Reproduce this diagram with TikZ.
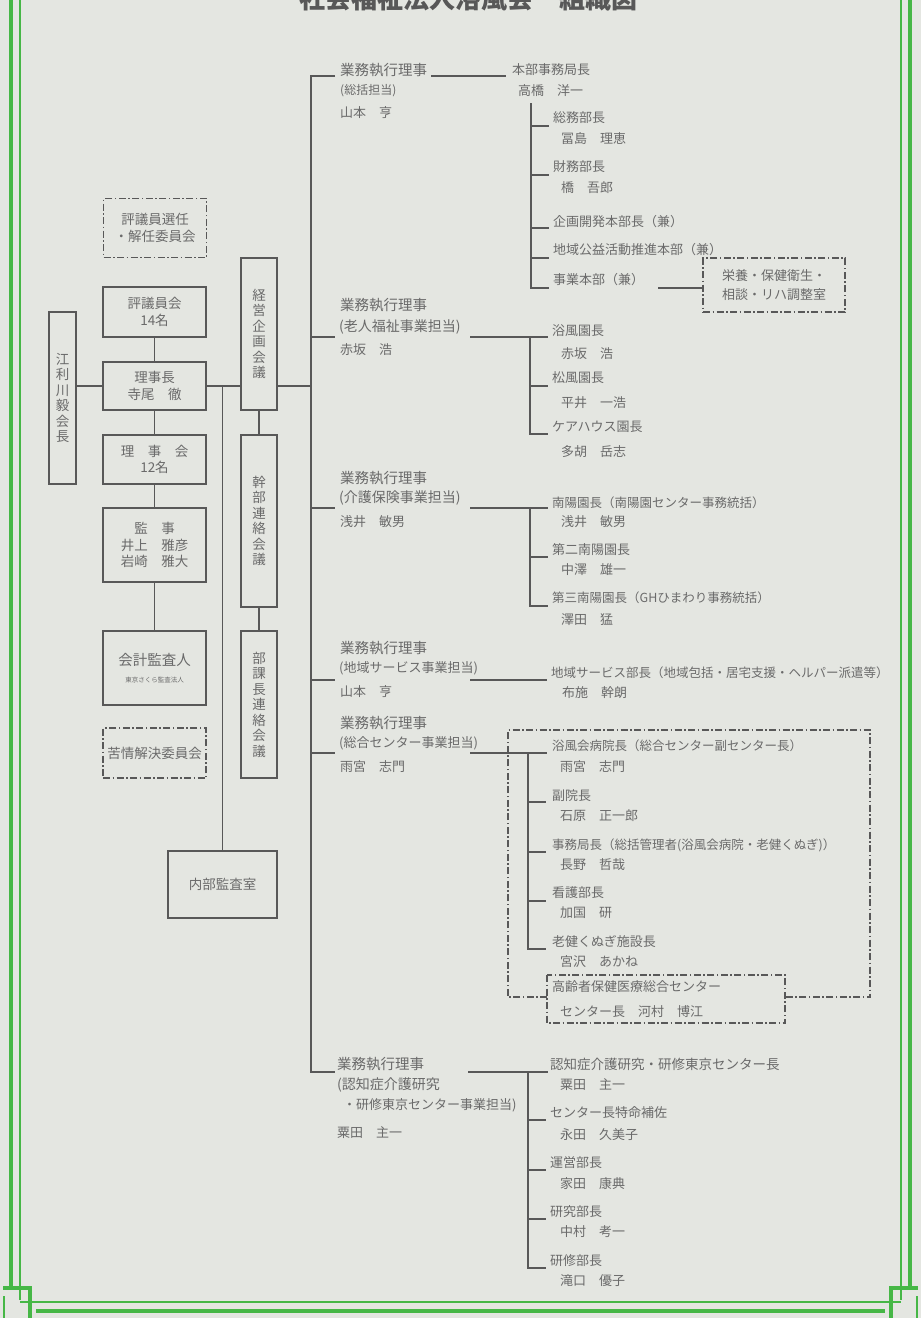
\documentclass[tikz,border=0pt]{standalone}
\usepackage{fontspec}
\setmainfont{Noto Sans CJK JP}
\definecolor{bgc}{HTML}{E4E6E1}
\definecolor{linec}{HTML}{585858}
\definecolor{txtc}{HTML}{6A6A6A}
\definecolor{grn}{HTML}{46B746}
\begin{document}
\begin{tikzpicture}[x=1pt,y=-1pt,
  conn/.style={draw=linec,line width=1.7pt},
  obox/.style={draw=linec,line width=1.7pt,text=txtc,align=center,inner sep=0pt,font=\fontsize{13.5}{16.5}\selectfont},
  ddash/.style={dash pattern=on 7pt off 2.5pt on 1.5pt off 2.5pt},
  lbl/.style={anchor=west,inner sep=0pt,text=txtc,font=\fontsize{13}{15}\selectfont},
  lbls/.style={lbl,font=\fontsize{12.5}{15}\selectfont},
  lblh/.style={lbl,font=\fontsize{14.5}{16}\selectfont},
  vtxt/.style={obox,font=\fontsize{13.5}{15.5}\selectfont},
  frm/.style={draw=grn,line width=4pt},
  frmthin/.style={draw=grn,line width=1.6pt}]

\clip (0,0) rectangle (921,1318);
\fill[bgc] (0,0) rectangle (921,1318);

% ---------- green frame ----------
\draw[frm] (11,0) -- (11,1288);
\draw[frmthin] (20,0) -- (20,1300);
\draw[frm] (910,0) -- (910,1288);
\draw[frmthin] (901,0) -- (901,1300);
\draw[frm] (36,1311) -- (885,1311);
\draw[frmthin] (20,1302) -- (901,1302);
\draw[frm] (3,1288) -- (30,1288) -- (30,1318);
\draw[frmthin] (4,1296) -- (4,1318);
\draw[frm] (918,1288) -- (891,1288) -- (891,1318);
\draw[frmthin] (917,1296) -- (917,1318);

% ---------- title (clipped at the top edge) ----------
\node[text=linec,font=\fontsize{26}{28}\bfseries] (title) at (468,-1) {社会福祉法人浴風会　組織図};

% ---------- left column ----------
\node[obox,ddash,minimum width=103pt,minimum height=59pt] (senin) at (155,228) {評議員選任\\・解任委員会};
\node[obox,minimum width=103pt,minimum height=50pt] (hyogi) at (154.5,312) {評議員会\\14名};
\node[obox,minimum width=103pt,minimum height=48pt] (rijicho) at (154.5,386) {理事長\\寺尾　徹};
\node[obox,minimum width=103pt,minimum height=49pt] (rijikai) at (154.5,459.5) {理　事　会\\12名};
\node[obox,minimum width=103pt,minimum height=74pt] (kanji) at (154.5,545) {監　事\\井上　雅彦\\岩崎　雅大};
\node[obox,minimum width=103pt,minimum height=74pt] (kaikei) at (154.5,668) {{\fontsize{14.5}{17}\selectfont 会計監査人}\\{\fontsize{6.5}{8}\selectfont 東京さくら監査法人}};
\node[obox,ddash,minimum width=103pt,minimum height=50pt] (kujo) at (154.5,753) {苦情解決委員会};
\node[vtxt,minimum width=27pt,minimum height=172pt] (kaicho) at (62.5,398) {江\\利\\川\\毅\\会\\長};
\node[obox,minimum width=109pt,minimum height=67pt] (naibu) at (222.5,884.5) {内部監査室};
\node[vtxt,minimum width=36pt,minimum height=152pt] (keiei) at (259,334) {経\\営\\企\\画\\会\\議};
\node[vtxt,minimum width=36pt,minimum height=172pt] (kanbu) at (259,521) {幹\\部\\連\\絡\\会\\議};
\node[vtxt,minimum width=36pt,minimum height=147pt] (bukacho) at (259,704.5) {部\\課\\長\\連\\絡\\会\\議};

\draw[conn] (kaicho.east |- rijicho) -- (rijicho.west);
\draw[conn] (hyogi.south) -- (rijicho.north);
\draw[conn] (rijicho.south) -- (rijikai.north);
\draw[conn] (rijikai.south) -- (kanji.north);
\draw[conn] (kanji.south) -- (kaikei.north);
\draw[conn] (rijicho.east) -- (rijicho.east -| keiei.west);
\coordinate (jn) at (222.5,386);
\draw[conn] (jn) -- (naibu.north);
\draw[conn] (keiei.south) -- (kanbu.north);
\draw[conn] (kanbu.south) -- (bukacho.north);

% ---------- main trunk ----------
\coordinate (tk1) at (311,76);
\coordinate (tk2) at (311,337);
\coordinate (tk3) at (311,508);
\coordinate (tk4) at (311,680);
\coordinate (tk5) at (311,753);
\coordinate (tk6) at (311,1072);
\draw[conn] (335,76) -- (tk1) -- (tk6) -- (335,1072);
\draw[conn] (keiei.east |- rijicho) -- (tk1 |- rijicho);
\foreach \t in {tk2,tk3,tk4,tk5} \draw[conn] (\t) -- ++(24,0);

% ---------- branch 1 : 総括担当 ----------
\node[lblh] (b1a) at (340,70) {業務執行理事};
\node[lbl,font=\fontsize{12}{14}\selectfont] (b1b) at (340,91) {(総括担当)};
\node[lbl] (b1c) at (340,113) {山本　亨};
\node[lbl] (hb) at (512,70) {本部事務局長};
\node[lbl] (hbn) at (518,91) {高橋　洋一};
\coordinate (c1s) at (431,76); \coordinate (c1e) at (506,76);
\draw[conn] (c1s) -- (c1e);
\coordinate (v1t) at (531,103); \coordinate (v1b) at (531,288);
\draw[conn] (v1t) -- (v1b) -- ++(18,0);
\foreach \y in {126,175,228,258} \draw[conn] (531,\y) -- ++(18,0);
\node[lbl] (s11) at (553,118) {総務部長};
\node[lbl] (s11n) at (561,139) {冨島　理恵};
\node[lbl] (s12) at (553,167) {財務部長};
\node[lbl] (s12n) at (561,188) {橋　吾郎};
\node[lbl] (s13) at (553,222) {企画開発本部長（兼）};
\node[lbl] (s14) at (553,250) {地域公益活動推進本部（兼）};
\node[lbl] (s15) at (553,280) {事業本部（兼）};
\node[obox,ddash,minimum width=142pt,minimum height=54pt,font=\fontsize{13}{19}\selectfont] (eiyo) at (774,285) {栄養・保健衛生・\\相談・リハ調整室};
\coordinate (c15) at (658,288);
\draw[conn] (c15) -- (c15 -| eiyo.west);

% ---------- branch 2 : 老人福祉事業担当 ----------
\node[lblh] (b2a) at (340,305) {業務執行理事};
\node[lbl,font=\fontsize{14}{16}\selectfont] (b2b) at (339,327) {(老人福祉事業担当)};
\node[lbl] (b2c) at (340,350) {赤坂　浩};
\coordinate (c2s) at (470,337); \coordinate (c2e) at (548,337);
\draw[conn] (c2s) -- (c2e);
\draw[conn] (530,337) -- (530,434) -- ++(18,0);
\draw[conn] (530,386) -- ++(18,0);
\node[lbl] (s21) at (552,331) {浴風園長};
\node[lbl] (s21n) at (561,354) {赤坂　浩};
\node[lbl] (s22) at (552,378) {松風園長};
\node[lbl] (s22n) at (561,403) {平井　一浩};
\node[lbl] (s23) at (552,427) {ケアハウス園長};
\node[lbl] (s23n) at (561,452) {多胡　岳志};

% ---------- branch 3 : 介護保険事業担当 ----------
\node[lblh] (b3a) at (340,478) {業務執行理事};
\node[lbl,font=\fontsize{14}{16}\selectfont] (b3b) at (339,498) {(介護保険事業担当)};
\node[lbl] (b3c) at (340,522) {浅井　敏男};
\coordinate (c3s) at (470,508); \coordinate (c3e) at (548,508);
\draw[conn] (c3s) -- (c3e);
\draw[conn] (530,508) -- (530,606) -- ++(18,0);
\draw[conn] (530,557) -- ++(18,0);
\node[lbls] (s31) at (552,503) {南陽園長（南陽園センター事務統括）};
\node[lbl] (s31n) at (561,522) {浅井　敏男};
\node[lbl] (s32) at (552,550) {第二南陽園長};
\node[lbl] (s32n) at (561,570) {中澤　雄一};
\node[lbls] (s33) at (552,598) {第三南陽園長（GHひまわり事務統括）};
\node[lbl] (s33n) at (561,620) {澤田　猛};

% ---------- branch 4 : 地域サービス事業担当 ----------
\node[lblh] (b4a) at (340,648) {業務執行理事};
\node[lbl] (b4b) at (339,668) {(地域サービス事業担当)};
\node[lbl] (b4c) at (340,692) {山本　亨};
\coordinate (c4s) at (470,680); \coordinate (c4e) at (547,680);
\draw[conn] (c4s) -- (c4e);
\node[lbls] (s41) at (551,673) {地域サービス部長（地域包括・居宅支援・ヘルパー派遣等）};
\node[lbl] (s41n) at (562,693) {布施　幹朗};

% ---------- branch 5 : 総合センター事業担当 ----------
\node[lblh] (b5a) at (340,723) {業務執行理事};
\node[lbl] (b5b) at (339,743) {(総合センター事業担当)};
\node[lbl] (b5c) at (340,767) {雨宮　志門};
\coordinate (c5s) at (470,753); \coordinate (c5e) at (547,753);
\draw[conn] (c5s) -- (c5e);
\draw[conn] (528,753) -- (528,949) -- ++(18,0);
\foreach \y in {802,852,901} \draw[conn] (528,\y) -- ++(18,0);
\node[lbls] (s51) at (552,746) {浴風会病院長（総合センター副センター長）};
\node[lbl] (s51n) at (560,767) {雨宮　志門};
\node[lbl] (s52) at (552,796) {副院長};
\node[lbl] (s52n) at (560,816) {石原　正一郎};
\node[lbls] (s53) at (552,845) {事務局長（総括管理者(浴風会病院・老健くぬぎ)）};
\node[lbl] (s53n) at (560,865) {長野　哲哉};
\node[lbl] (s54) at (552,893) {看護部長};
\node[lbl] (s54n) at (560,913) {加国　研};
\node[lbl] (s55) at (552,942) {老健くぬぎ施設長};
\node[lbl] (s55n) at (560,962) {宮沢　あかね};
\draw[conn,ddash] (547,997) -- (508,997) -- (508,730) -- (870,730) -- (870,997) -- (785,997);
\draw[conn,ddash] (547,975) rectangle (785,1023);
\node[lbl] (s56) at (552,987) {高齢者保健医療総合センター};
\node[lbl] (s56n) at (560,1012) {センター長　河村　博江};

% ---------- branch 6 : 認知症介護研究・研修東京センター事業担当 ----------
\node[lblh] (b6a) at (337,1064) {業務執行理事};
\node[lbl,font=\fontsize{14}{16}\selectfont] (b6b) at (337,1085) {(認知症介護研究};
\node[lbl] (b6c) at (343,1105) {・研修東京センター事業担当)};
\node[lbl] (b6d) at (337,1133) {粟田　主一};
\coordinate (c6s) at (468,1072); \coordinate (c6e) at (548,1072);
\draw[conn] (c6s) -- (c6e);
\draw[conn] (528,1072) -- (528,1268) -- ++(18,0);
\foreach \y in {1120,1170,1219} \draw[conn] (528,\y) -- ++(18,0);
\node[lbl,font=\fontsize{13.5}{15}\selectfont] (s61) at (550,1064) {認知症介護研究・研修東京センター長};
\node[lbl] (s61n) at (560,1085) {粟田　主一};
\node[lbl] (s62) at (550,1113) {センター長特命補佐};
\node[lbl] (s62n) at (560,1135) {永田　久美子};
\node[lbl] (s63) at (550,1163) {運営部長};
\node[lbl] (s63n) at (560,1184) {家田　康典};
\node[lbl] (s64) at (550,1212) {研究部長};
\node[lbl] (s64n) at (560,1232) {中村　考一};
\node[lbl] (s65) at (550,1261) {研修部長};
\node[lbl] (s65n) at (560,1281) {滝口　優子};
\end{tikzpicture}
\end{document}
